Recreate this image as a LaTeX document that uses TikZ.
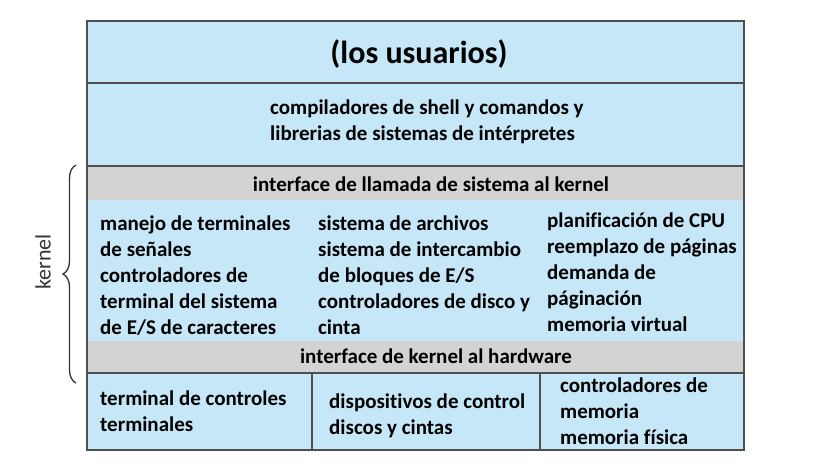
\documentclass[tikz,border=0pt]{standalone}
\usepackage{fontspec}
\setmainfont{Carlito}[Ligatures=NoCommon]
\usetikzlibrary{decorations.pathreplacing}
\definecolor{LayerBlue}{HTML}{C6E7F8}
\definecolor{LayerGrey}{HTML}{D3D3D3}
\definecolor{LayerEdge}{HTML}{505050}
\begin{document}
\begin{tikzpicture}[x=1pt,y=-1pt,
    layer/.style={fill=LayerBlue},
    band/.style={fill=LayerGrey},
    edge/.style={draw=LayerEdge, line width=1.5pt},
    cell/.style={anchor=north west, inner sep=0pt, align=left,
      font=\bfseries\fontsize{21}{26}\selectfont},
    bandtext/.style={anchor=base, inner sep=0pt, font=\bfseries\fontsize{21}{26}\selectfont}
  ]
    \useasboundingbox (0,0) rectangle (834,475);
    % layers
    \fill[layer] (87,21) rectangle (744,166);
    \fill[band] (87,166) rectangle (744,200);
    \fill[layer] (87,200) rectangle (744,341);
    \fill[band] (87,341) rectangle (744,373);
    \fill[layer] (87,373) rectangle (744,450);
    \draw[edge] (87,21) rectangle (744,450);
    \draw[edge] (87,83) -- (744,83);
    \draw[edge] (87,166) -- (744,166);
    \draw[edge] (87,373) -- (744,373);
    \draw[edge] (312,373) -- (312,450);
    \draw[edge] (540,373) -- (540,450);
    % texts
    \node[bandtext, font=\bfseries\fontsize{32}{36}\selectfont] (users) at (419,63) {(los usuarios)};
    \node[cell] (shells) at (270,100) {compiladores de shell y comandos y\\librerias de sistemas de intérpretes};
    \node[bandtext] (syscall) at (431,191) {interface de llamada de sistema al kernel};
    \node[cell] (signals) at (100,216) {manejo de terminales\\de señales\\controladores de\\terminal del sistema\\de E/S de caracteres};
    \node[cell] (files) at (318,216) {sistema de archivos\\sistema de intercambio\\de bloques de E/S\\controladores de disco y\\cinta};
    \node[cell] (cpu) at (547,213) {planificación de CPU\\reemplazo de páginas\\demanda de\\páginación\\memoria virtual};
    \node[bandtext] (hwif) at (436,363) {interface de kernel al hardware};
    \node[cell] (terms) at (100,391) {terminal de controles\\terminales};
    \node[cell] (disks) at (329,394) {dispositivos de control\\discos y cintas};
    \node[cell] (memory) at (560,378) {controladores de\\memoria\\memoria física};
    % kernel brace
    \coordinate (kbot) at (76,383);
    \coordinate (ktop) at (76,165);
    \draw[line width=1.3pt, color=black!80, decorate, decoration={brace, amplitude=13pt}] (kbot) -- (ktop);
    \node[rotate=90, text=black!80, font=\fontsize{22}{26}\selectfont] (kernel) at (43,262) {kernel};
  \end{tikzpicture}
\end{document}
